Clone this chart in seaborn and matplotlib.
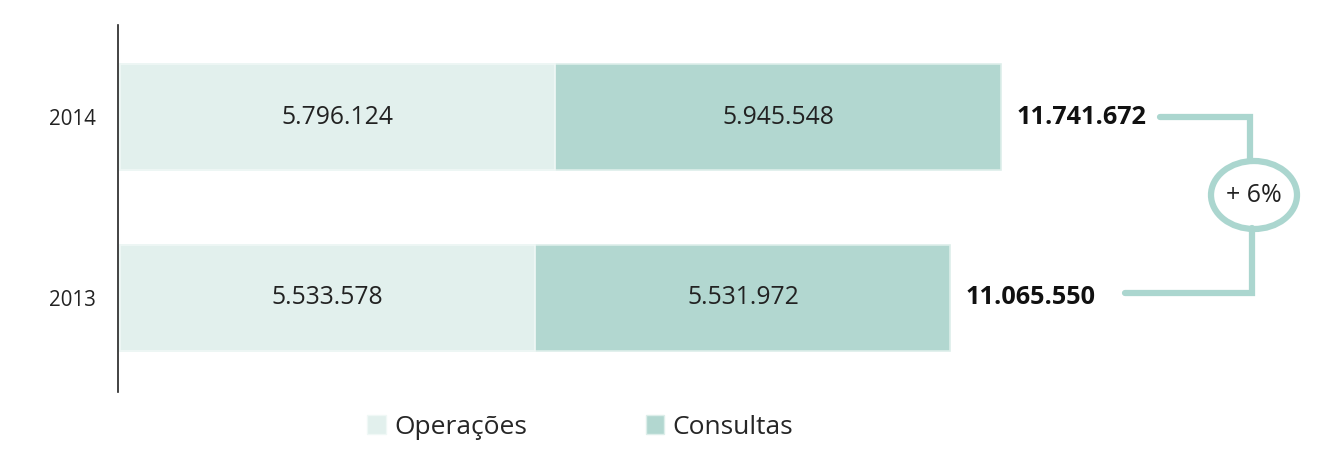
import matplotlib
matplotlib.use("Agg")
import matplotlib.pyplot as plt
import seaborn as sns
import pandas as pd
from matplotlib.patches import Ellipse, Patch
from matplotlib.lines import Line2D

years = ["2014", "2013"]
operacoes = [5796124, 5533578]
consultas = [5945548, 5531972]
series_names = ["Operações", "Consultas"]
growth_label = "+ 6%"

def fmt(v):
    return f"{v:,}".replace(",", ".")

totals = [o + c for o, c in zip(operacoes, consultas)]
df = pd.DataFrame({"year": years, "ops": operacoes, "cons": consultas, "total": totals})

sns.set_theme(style="white")
plt.rcParams["font.family"] = ["Open Sans", "DejaVu Sans"]

c_ops = "#E2F0ED"
c_cons = "#B2D7D0"
c_line = "#ABD6CF"

fig = plt.figure(figsize=(13.21, 4.75), dpi=100)
W, H = 1321, 475
ax = fig.add_axes([118 / W, 1 - 392 / H, (1300 - 118) / W, (392 - 25) / H])

bh = 106 / 181
sns.barplot(data=df, y="year", x="total", orient="h", order=years, color=c_cons,
            width=bh, edgecolor="#DDEEEA", linewidth=1.2, ax=ax, saturation=1)
sns.barplot(data=df, y="year", x="ops", orient="h", order=years, color=c_ops,
            width=bh, edgecolor="#F0F8F6", linewidth=1.2, ax=ax, saturation=1)

px_per_unit = 75.05 / 1e6
ax.set_xlim(-2 / px_per_unit, (1300 - 118 - 2) / px_per_unit)
ax.set_ylim(1 + (392 - 298) / 181, -(117 - 25) / 181)

for i, (o, c, t) in enumerate(zip(operacoes, consultas, totals)):
    ax.text(o / 2, i, fmt(o), ha="center", va="center", fontsize=17.8, color="#222222")
    ax.text(o + c / 2, i, fmt(c), ha="center", va="center", fontsize=17.8, color="#222222")
    ax.text(t + 15 / px_per_unit, i, fmt(t), ha="left", va="center", fontsize=18.2,
            fontweight="bold", color="#111111")

ax.set_xlabel("")
ax.set_ylabel("")
ax.set_xticks([])
ax.tick_params(axis="y", length=0, pad=16, labelsize=14.8, labelcolor="#222222")
for s in ["top", "right", "bottom"]:
    ax.spines[s].set_visible(False)
ax.spines["left"].set_color("#222222")
ax.spines["left"].set_linewidth(1.2)

def fx(x):
    return x / W
def fy(y):
    return 1 - y / H

lw = 4.5
fig.add_artist(Line2D([fx(1160), fx(1250), fx(1250)], [fy(117), fy(117), fy(160)],
                      color=c_line, lw=lw, solid_joinstyle="miter"))
fig.add_artist(Line2D([fx(1125), fx(1252), fx(1252)], [fy(293), fy(293), fy(228)],
                      color=c_line, lw=lw, solid_joinstyle="miter"))
fig.add_artist(Ellipse((fx(1254), fy(195)), width=86 / W, height=68 / H,
                       facecolor="white", edgecolor=c_line, lw=lw, transform=fig.transFigure))
fig.text(fx(1254), fy(195), growth_label, ha="center", va="center", fontsize=18, color="#222222")

handles = [Patch(facecolor=c_ops, edgecolor="#F0F8F6"), Patch(facecolor=c_cons, edgecolor="#DDEEEA")]
fig.legend(handles, series_names, loc="center", bbox_to_anchor=(fx(580), fy(427)), ncol=2,
           frameon=False, fontsize=19, handlelength=0.7, handleheight=0.7, handletextpad=0.3,
           columnspacing=4.5)

fig.savefig("out.png", dpi=100)
